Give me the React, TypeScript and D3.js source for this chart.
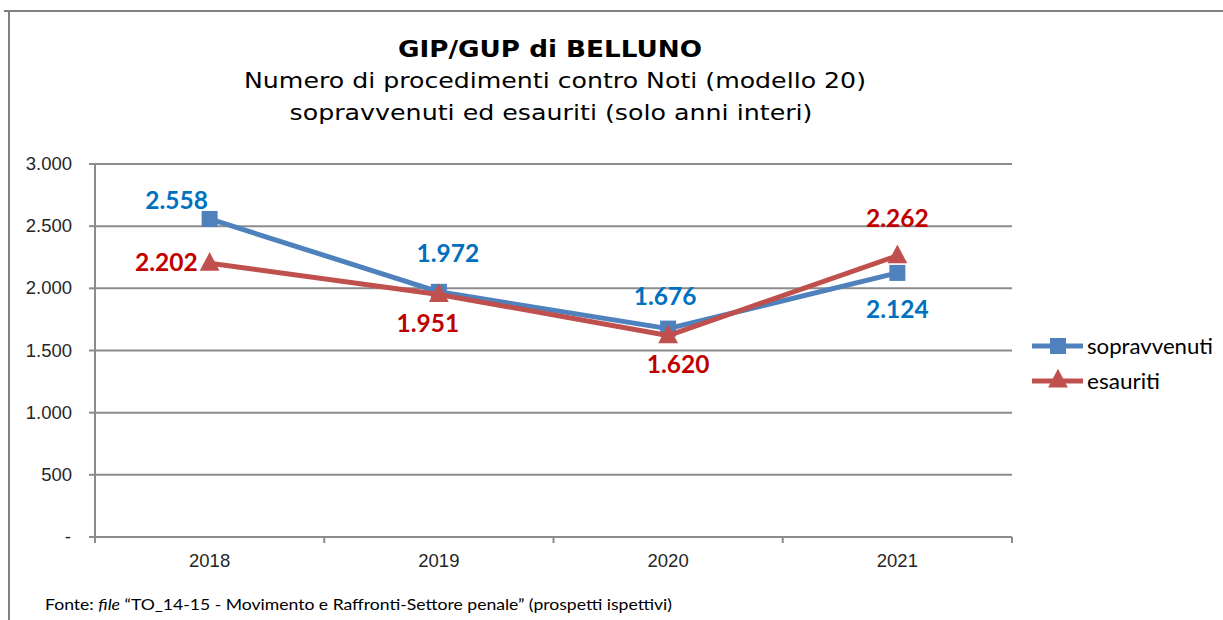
import React from "react";
import * as d3 from "d3";

const years = ["2018", "2019", "2020", "2021"];
const sopravvenuti = [2558, 1972, 1676, 2124];
const esauriti = [2202, 1951, 1620, 2262];
const yTicks = [0, 500, 1000, 1500, 2000, 2500, 3000];

const titleLines = [
  "GIP/GUP di BELLUNO",
  "Numero di procedimenti contro Noti (modello 20)",
  "sopravvenuti ed esauriti (solo anni interi)",
];

// label offsets (dx, dy baseline) relative to points
const blueLabelOffsets: [number, number, string][] = [
  [-33, -10, "middle"],
  [9, -30, "middle"],
  [-3, -24, "middle"],
  [0, 45, "middle"],
];
const redLabelOffsets: [number, number, string][] = [
  [-12, 8, "end"],
  [-11, 38, "middle"],
  [10, 37, "middle"],
  [0, -29, "middle"],
];

const W = 1223;
const H = 620;
const plot = { left: 95, right: 1012, top: 164, bottom: 537 };

const fmt = (v: number) => (v === 0 ? "-" : d3.format(",")(v).replace(/,/g, "."));

export default function App() {
  const x = d3
    .scaleBand<string>()
    .domain(years)
    .range([plot.left, plot.right]);
  const y = d3.scaleLinear().domain([0, 3000]).range([plot.bottom, plot.top]);
  const cx = (i: number) => (x(years[i]) as number) + x.bandwidth() / 2;

  const line = d3
    .line<number>()
    .x((_, i) => cx(i))
    .y((d) => y(d));

  const blue = "#4F81BD";
  const red = "#C0504D";
  const grid = "#8C8C8C";

  const triangle = (px: number, py: number, s: number) =>
    `M${px},${py - s * 0.62} L${px + s * 0.55},${py + s * 0.42} L${px - s * 0.55},${py + s * 0.42} Z`;

  const boundaries = [...years.map((yr) => x(yr) as number), plot.right];

  return (
    <svg
      width={W}
      height={H}
      style={{ position: "absolute", left: 0, top: 0, background: "#fff" }}
    >
      <rect x={0} y={0} width={W} height={H} fill="#fff" />
      {/* outer border */}
      <line x1={4} x2={W} y1={11} y2={11} stroke="#808080" strokeWidth={2} />
      <line x1={9} x2={9} y1={11} y2={H} stroke="#808080" strokeWidth={2} />

      {/* title */}
      <text
        x={550}
        y={57}
        textAnchor="middle"
        fontFamily="DejaVu Sans, Verdana, sans-serif"
        fontWeight="bold"
        fontSize={23}
        textLength={304}
        lengthAdjust="spacingAndGlyphs"
        fill="#000"
      >
        {titleLines[0]}
      </text>
      <text
        x={555}
        y={88}
        textAnchor="middle"
        fontFamily="DejaVu Sans, Verdana, sans-serif"
        fontSize={22}
        textLength={622}
        lengthAdjust="spacingAndGlyphs"
        fill="#000"
      >
        {titleLines[1]}
      </text>
      <text
        x={551}
        y={120}
        textAnchor="middle"
        fontFamily="DejaVu Sans, Verdana, sans-serif"
        fontSize={22}
        textLength={523}
        lengthAdjust="spacingAndGlyphs"
        fill="#000"
      >
        {titleLines[2]}
      </text>

      {/* gridlines & y ticks */}
      {yTicks.map((t) => (
        <g key={t}>
          {t > 0 && (
            <line
              x1={plot.left}
              x2={plot.right}
              y1={y(t)}
              y2={y(t)}
              stroke={grid}
              strokeWidth={2}
            />
          )}
          <line x1={89} x2={plot.left} y1={y(t)} y2={y(t)} stroke={grid} strokeWidth={2} />
          <text
            x={t === 0 ? 71 : 72}
            y={y(t) + 6}
            textAnchor="end"
            fontFamily="Liberation Sans, Arial, sans-serif"
            fontSize={18.5}
            fill="#262626"
          >
            {fmt(t)}
          </text>
        </g>
      ))}
      {/* y axis */}
      <line x1={plot.left} x2={plot.left} y1={plot.top} y2={plot.bottom} stroke={grid} strokeWidth={2} />
      {/* x axis */}
      <line x1={plot.left} x2={plot.right} y1={plot.bottom} y2={plot.bottom} stroke={grid} strokeWidth={2} />
      {boundaries.map((b, i) => (
        <line key={i} x1={b} x2={b} y1={plot.bottom} y2={plot.bottom + 6} stroke={grid} strokeWidth={2} />
      ))}
      {years.map((yr, i) => (
        <text
          key={yr}
          x={cx(i)}
          y={567}
          textAnchor="middle"
          fontFamily="Liberation Sans, Arial, sans-serif"
          fontSize={18.5}
          fill="#262626"
        >
          {yr}
        </text>
      ))}

      {/* series: sopravvenuti */}
      <path d={line(sopravvenuti) || ""} fill="none" stroke={blue} strokeWidth={5} strokeLinejoin="round" />
      {sopravvenuti.map((v, i) => (
        <rect key={i} x={cx(i) - 8} y={y(v) - 8} width={16} height={16} fill={blue} />
      ))}
      {/* series: esauriti */}
      <path d={line(esauriti) || ""} fill="none" stroke={red} strokeWidth={5} strokeLinejoin="round" />
      {esauriti.map((v, i) => (
        <path key={i} d={triangle(cx(i), y(v), 18)} fill={red} />
      ))}

      {/* data labels */}
      {sopravvenuti.map((v, i) => (
        <text
          key={"b" + i}
          x={cx(i) + blueLabelOffsets[i][0]}
          y={y(v) + blueLabelOffsets[i][1]}
          textAnchor={blueLabelOffsets[i][2] as any}
          fontFamily="Lato, Carlito, Calibri, sans-serif"
          fontWeight="bold"
          fontSize={24.5}
          fill="#0070C0"
        >
          {fmt(v)}
        </text>
      ))}
      {esauriti.map((v, i) => (
        <text
          key={"r" + i}
          x={cx(i) + redLabelOffsets[i][0]}
          y={y(v) + redLabelOffsets[i][1]}
          textAnchor={redLabelOffsets[i][2] as any}
          fontFamily="Lato, Carlito, Calibri, sans-serif"
          fontWeight="bold"
          fontSize={24.5}
          fill="#C00000"
        >
          {fmt(v)}
        </text>
      ))}

      {/* legend */}
      <line x1={1032} x2={1083} y1={346} y2={346} stroke={blue} strokeWidth={5} />
      <rect x={1050} y={338} width={16} height={16} fill={blue} />
      <text
        x={1087}
        y={354}
        fontFamily="Lato, Carlito, Calibri, sans-serif"
        fontSize={21}
        textLength={126}
        lengthAdjust="spacingAndGlyphs"
        fill="#000"
      >
        sopravvenuti
      </text>
      <line x1={1032} x2={1083} y1={381} y2={381} stroke={red} strokeWidth={5} />
      <path d={triangle(1058, 380, 18)} fill={red} />
      <text
        x={1087}
        y={389}
        fontFamily="Lato, Carlito, Calibri, sans-serif"
        fontSize={21}
        textLength={73}
        lengthAdjust="spacingAndGlyphs"
        fill="#000"
      >
        esauriti
      </text>

      {/* footer */}
      <text
        x={45}
        y={610}
        fontFamily="Lato, Carlito, Calibri, sans-serif"
        fontSize={15}
        fill="#000"
        textLength={627}
        lengthAdjust="spacingAndGlyphs"
      >
        Fonte: <tspan fontStyle="italic">file</tspan> “TO_14-15 - Movimento e Raffronti-Settore penale” (prospetti ispettivi)
      </text>
    </svg>
  );
}
